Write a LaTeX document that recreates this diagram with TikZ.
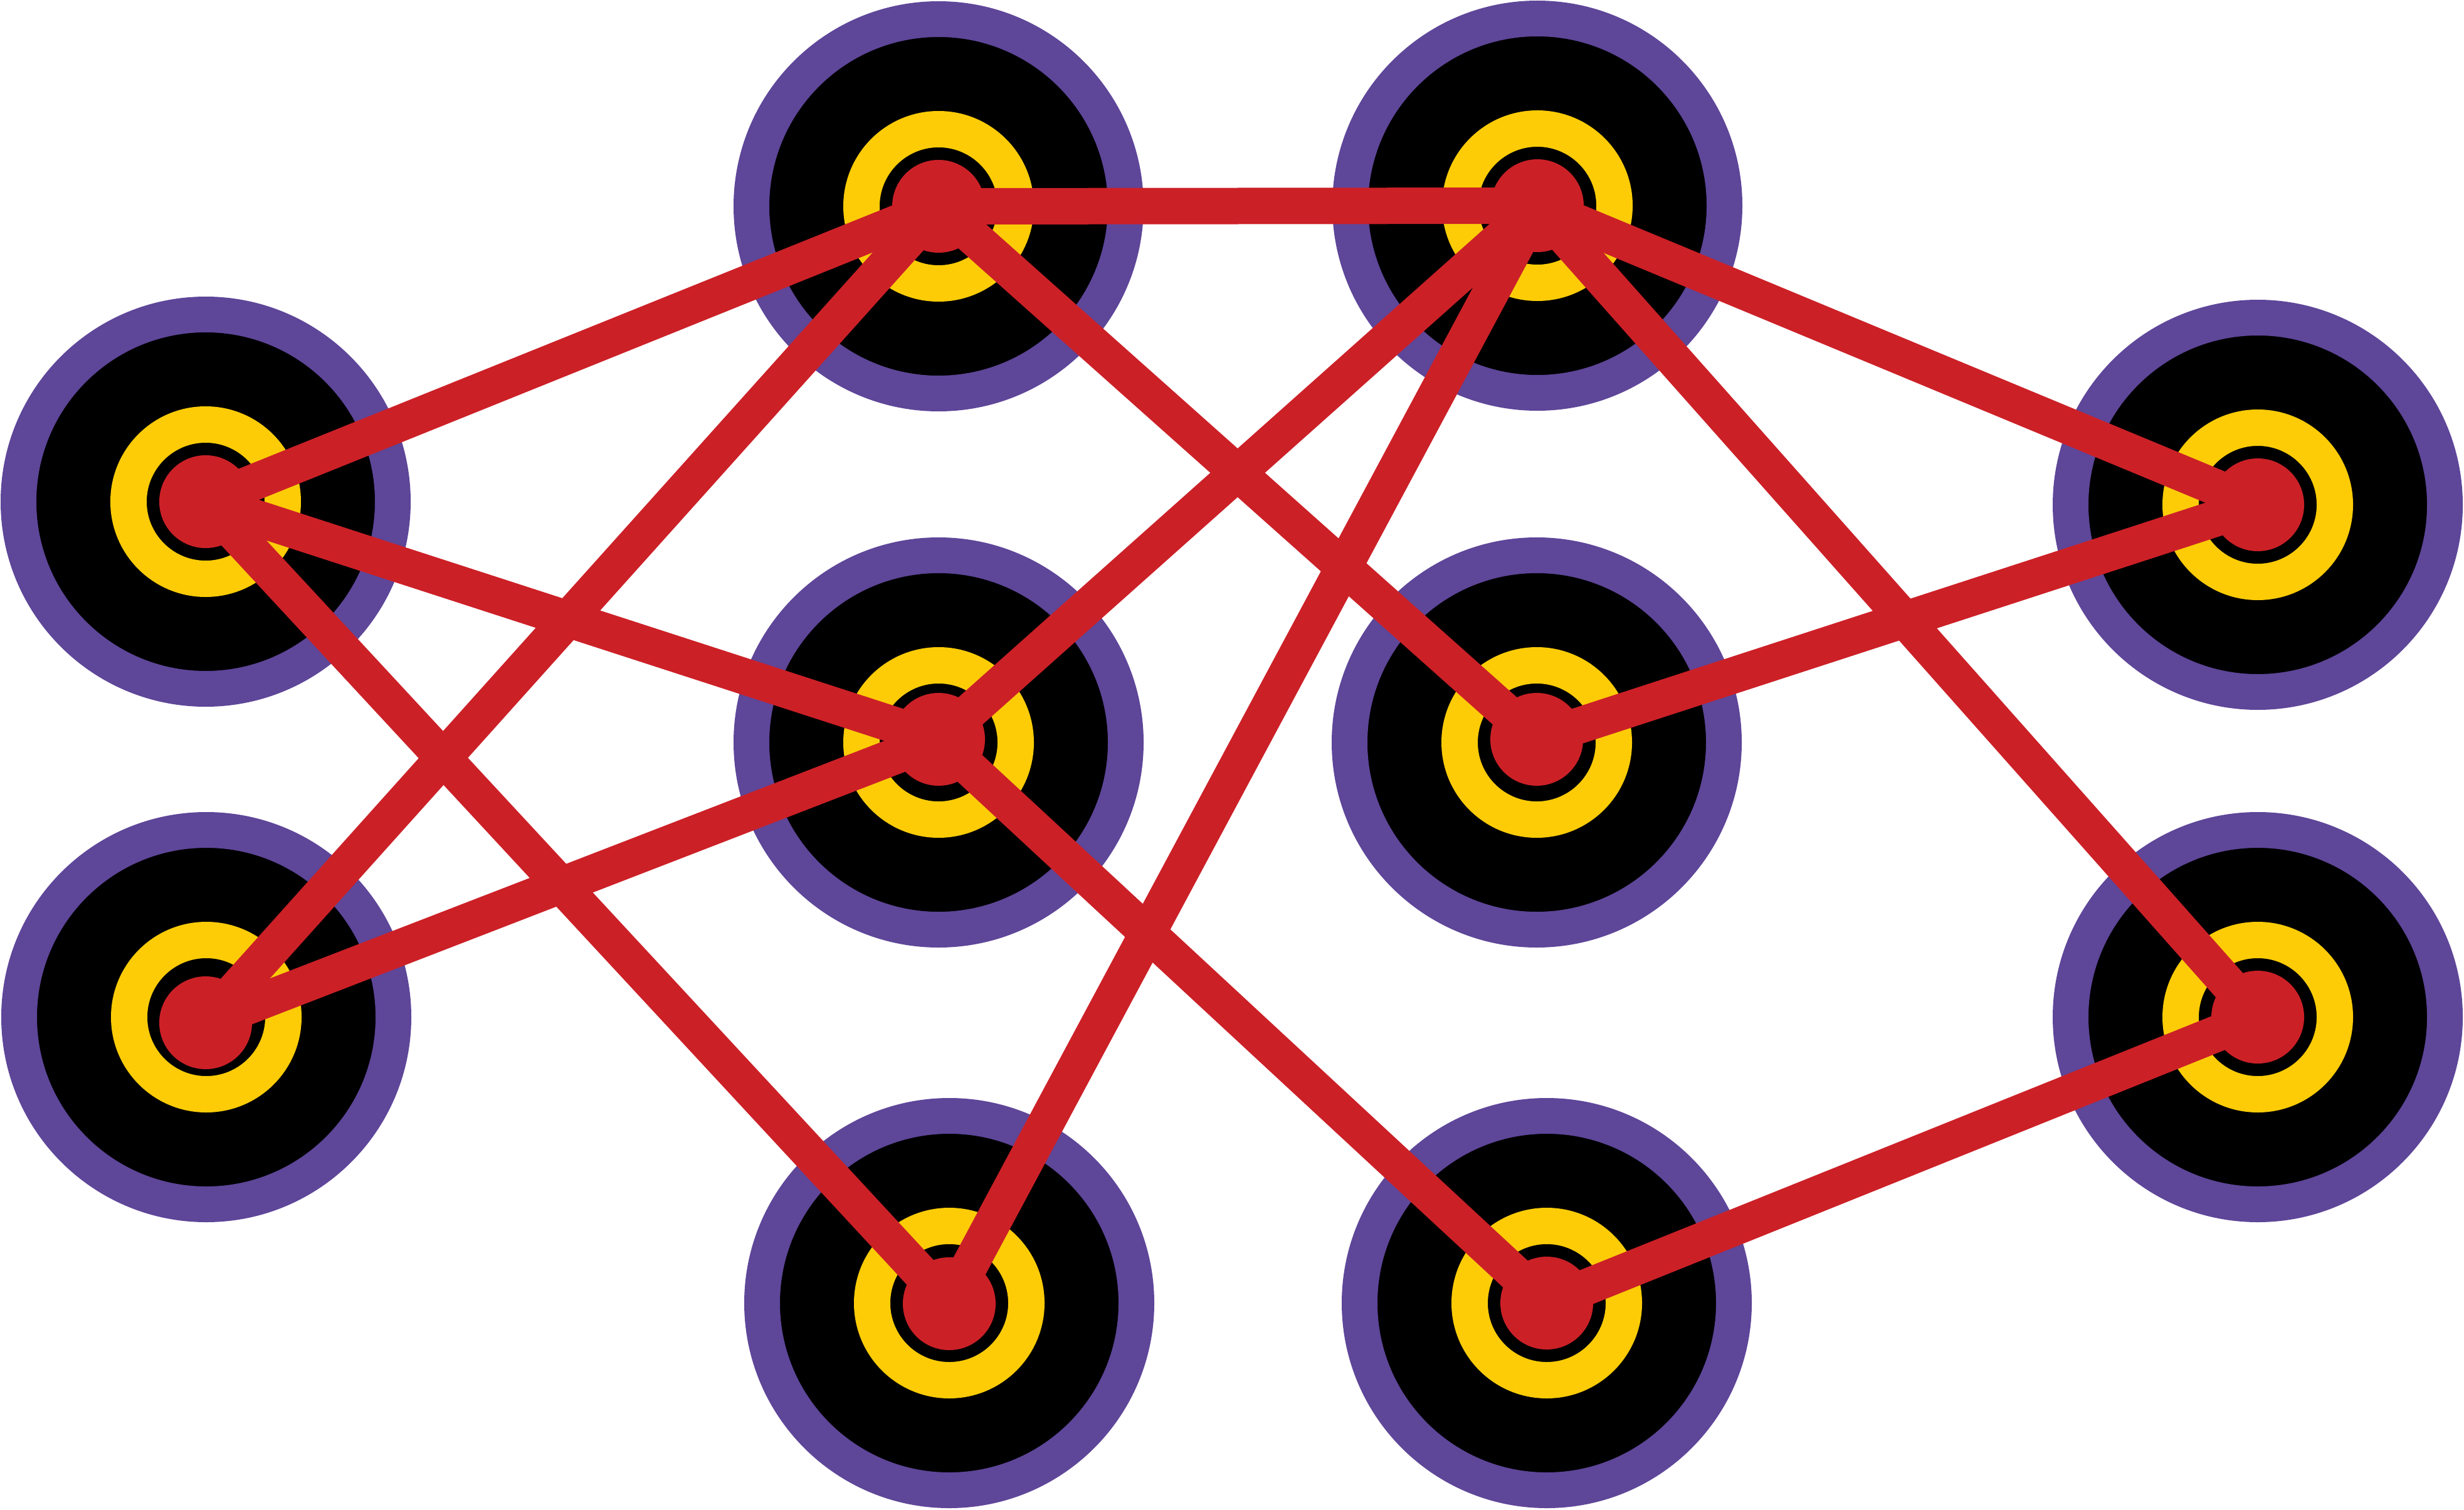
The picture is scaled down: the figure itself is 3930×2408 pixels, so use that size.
\documentclass[tikz,border=0pt]{standalone}
\definecolor{ringpurple}{RGB}{94,70,153}
\definecolor{ringyellow}{RGB}{253,204,7}
\definecolor{linkred}{RGB}{204,32,39}
\begin{document}
\begin{tikzpicture}[x=1pt,y=-1pt,
  ringouter/.style={circle,fill=black,draw=ringpurple,line width=57pt,minimum size=597pt,inner sep=0pt,outer sep=0pt},
  ringinner/.style={circle,draw=ringyellow,line width=58pt,minimum size=246pt,inner sep=0pt,outer sep=0pt},
  reddot/.style={circle,fill=linkred,minimum size=148pt,inner sep=0pt,outer sep=0pt},
  link/.style={draw=linkred,line width=58pt}]
\useasboundingbox (0,0) rectangle (3930,2408);
% targets
\foreach \n/\x/\y in {A/328/800, B/329/1622, C/1497/329, D/2452/328, E/1497/1184,
                      F/2451/1184, G/1514/2078, H/2467/2078, I/3601/805, J/3601/1622}{
  \node[ringouter] (o\n) at (\x,\y) {};
  \node[ringinner] (y\n) at (\x,\y) {};
}
% graph nodes (red dots)
\node[reddot] (A) at (328,800) {};
\node[reddot] (B) at (328,1631) {};
\node[reddot] (C) at (1497,329) {};
\node[reddot] (D) at (2452,328) {};
\node[reddot] (E) at (1497,1179) {};
\node[reddot] (F) at (2451,1179) {};
\node[reddot] (G) at (1514,2079) {};
\node[reddot] (H) at (2467,2078) {};
\node[reddot] (I) at (3601,805) {};
\node[reddot] (J) at (3601,1622) {};
% connectors
\foreach \a/\b in {A/C, A/E, A/G, C/D, C/B, C/F, D/E, D/G, D/I, D/J, E/B, E/H, F/I, H/J}{
  \draw[link] (\a.center) -- (\b.center);
}
\end{tikzpicture}
\end{document}
